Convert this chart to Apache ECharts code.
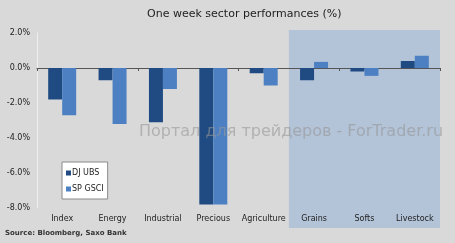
<!DOCTYPE html>
<html><head><meta charset="utf-8">
<script src="https://cdn.jsdelivr.net/npm/echarts@6/dist/echarts.min.js"></script>
<style>html,body{margin:0;padding:0;background:#d9d9d9}#c{width:455px;height:243px}</style>
</head><body><div id="c"></div>
<script>
const categories = ['Index','Energy','Industrial','Precious','Agriculture','Grains','Softs','Livestock'];
const djUbs = [-1.8,-0.7,-3.1,-7.8,-0.3,-0.7,-0.2,0.4];
const spGsci = [-2.7,-3.2,-1.2,-7.8,-1.0,0.35,-0.45,0.7];
const yTicks = {min:-8, max:2, interval:2};
const shadedFrom = 'Grains';

const chart = echarts.init(document.getElementById('c'), null, {renderer:'canvas'});
const font = 'Tahoma, "DejaVu Sans", sans-serif';
chart.setOption({
  animation:false,
  backgroundColor:'#d9d9d9',
  textStyle:{fontFamily:font},
  title:{text:'One week sector performances (%)', left:147, top:9, padding:0,
    textStyle:{fontSize:11, fontWeight:'normal', color:'#222', fontFamily:'"DejaVu Sans", sans-serif'}},
  grid:{left:37, right:15, top:33, bottom:35, containLabel:false},
  legend:{orient:'vertical', left:62, top:162, width:51, height:41, padding:[7,4,6,4], itemGap:8,
    backgroundColor:'#ffffff', borderColor:'#8a8a8a', borderWidth:1,
    itemWidth:5, itemHeight:5, icon:'rect',
    textStyle:{fontSize:8, color:'#222', padding:[0,0,0,-4]},
    data:['DJ UBS','SP GSCI']},
  xAxis:[
    {type:'category', data:categories, axisLine:{onZero:true, lineStyle:{color:'#555', width:1}},
     axisTick:{show:true, length:3, lineStyle:{color:'#555'}}, axisLabel:{show:false}, splitLine:{show:false}},
    {type:'category', data:categories, position:'bottom', axisLine:{show:false, onZero:false},
     axisTick:{show:false}, axisLabel:{interval:0, fontSize:8, color:'#222', margin:7}}
  ],
  yAxis:{type:'value', min:yTicks.min, max:yTicks.max, interval:yTicks.interval,
    axisLine:{show:true, lineStyle:{color:'#efefef'}}, axisTick:{show:false}, splitLine:{show:false},
    axisLabel:{fontSize:8, color:'#222', margin:7, formatter:v=>v.toFixed(1)+'%'}},
  series:[
    {name:'DJ UBS', type:'bar', data:djUbs, barWidth:14, barGap:'0%', itemStyle:{color:'#1f4a82'}, z:3},
    {name:'SP GSCI', type:'bar', data:spGsci, barWidth:14, barGap:'0%', itemStyle:{color:'#4d80c2'}, z:3}
  ]
});

const idx = categories.indexOf(shadedFrom);
const c0 = chart.convertToPixel({xAxisIndex:0}, categories[0]);
const c1 = chart.convertToPixel({xAxisIndex:0}, categories[1]);
const band = c1 - c0;
const xStart = chart.convertToPixel({xAxisIndex:0}, categories[idx]) - band/2;
const xEnd = chart.convertToPixel({xAxisIndex:0}, categories[categories.length-1]) + band/2;
const yTop = chart.convertToPixel({yAxisIndex:0}, yTicks.max) - 3;
const yBot = chart.convertToPixel({yAxisIndex:0}, yTicks.min) + 20;
chart.setOption({
  graphic:[
    {type:'rect', z:-10, silent:true, shape:{x:xStart, y:yTop, width:xEnd-xStart, height:yBot-yTop},
     style:{fill:'#b3c3d8'}},
    {type:'text', z:100, left:139, top:124, silent:true,
     style:{text:'Портал для трейдеров - ForTrader.ru', font:'16px "DejaVu Sans", sans-serif', fill:'rgba(150,150,150,0.6)'}},
    {type:'text', z:100, left:5, top:230, silent:true,
     style:{text:'Source: Bloomberg, Saxo Bank', font:'bold 7px Tahoma, "DejaVu Sans", sans-serif', fill:'#333'}}
  ]
});
</script></body></html>
